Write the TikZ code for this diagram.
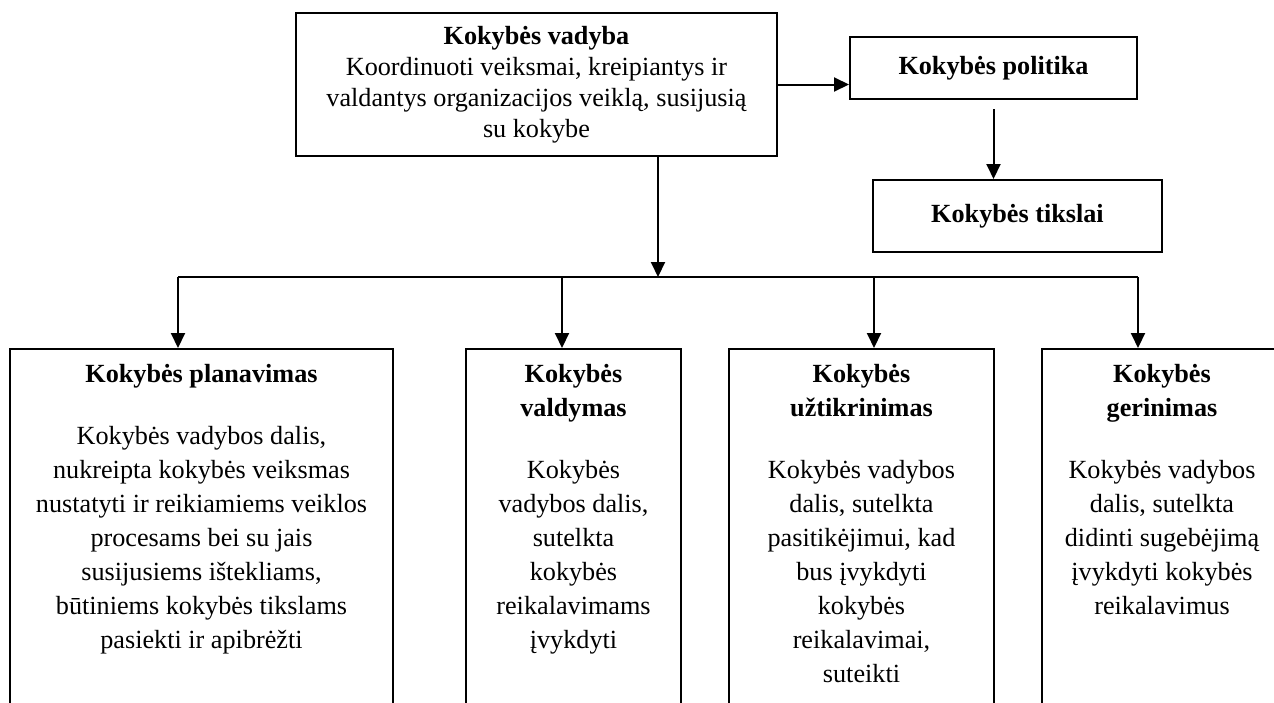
\documentclass[tikz,border=0pt]{standalone}
\usepackage{fontspec}
\setmainfont{Liberation Serif}
\usetikzlibrary{arrows.meta}

\tikzset{
    box/.style={draw, line width=1pt, inner sep=0pt},
    txt/.style={align=center, inner sep=0pt, font=\fontsize{13.1}{17}\selectfont},
    arr/.style={line width=1pt, -{Triangle[length=7.5pt,width=7pt]}}
}

\begin{document}
\begin{tikzpicture}[x=0.5pt, y=-0.5pt]
    \clip (0,0) rectangle (1274,702);
    \fill[white] (0,0) rectangle (1274,702);

    \node[box, txt, font=\fontsize{13.1}{15.5}\selectfont,
        minimum width=240.5pt, minimum height=71.5pt] (vadyba) at (536.5,84.5)
        {\textbf{Kokybės vadyba}\\ Koordinuoti veiksmai, kreipiantys ir\\
         valdantys organizacijos veiklą, susijusią\\ su kokybe};

    \node[box, txt, minimum width=143.5pt, minimum height=31pt] (politika)
        at (993.5,68) {\textbf{Kokybės politika}};

    \node[box, txt, minimum width=144.5pt, minimum height=36pt] (tikslai)
        at (1017.5,216) {\textbf{Kokybės tikslai}};

    \node[box, anchor=north, minimum width=191.5pt, minimum height=206pt] (planavimas) at (201.5,348) {};
    \node[box, anchor=north, minimum width=107.5pt, minimum height=206pt] (valdymas) at (573.5,348) {};
    \node[box, anchor=north, minimum width=132.5pt, minimum height=206pt] (uztikrinimas) at (861.5,348) {};
    \node[box, anchor=north, minimum width=120pt, minimum height=206pt] (gerinimas) at (1162,348) {};

    \node[txt, anchor=north] (planavimas-txt) at ([yshift=-8pt]planavimas.north)
        {\textbf{Kokybės planavimas}\\[14pt] Kokybės vadybos dalis,\\ nukreipta kokybės veiksmas\\
         nustatyti ir reikiamiems veiklos\\ procesams bei su jais\\ susijusiems ištekliams,\\
         būtiniems kokybės tikslams\\ pasiekti ir apibrėžti};

    \node[txt, anchor=north] (valdymas-txt) at ([yshift=-8pt]valdymas.north)
        {\textbf{Kokybės}\\ \textbf{valdymas}\\[14pt] Kokybės\\ vadybos dalis,\\ sutelkta\\
         kokybės\\ reikalavimams\\ įvykdyti};

    \node[txt, anchor=north] (uztikrinimas-txt) at ([yshift=-8pt]uztikrinimas.north)
        {\textbf{Kokybės}\\ \textbf{užtikrinimas}\\[14pt] Kokybės vadybos\\ dalis, sutelkta\\
         pasitikėjimui, kad\\ bus įvykdyti\\ kokybės\\ reikalavimai,\\ suteikti};

    \node[txt, anchor=north] (gerinimas-txt) at ([yshift=-8pt]gerinimas.north)
        {\textbf{Kokybės}\\ \textbf{gerinimas}\\[14pt] Kokybės vadybos\\ dalis, sutelkta\\
         didinti sugebėjimą\\ įvykdyti kokybės\\ reikalavimus};

    \coordinate (hub) at (658,277);
    \coordinate (b1) at (178,277);
    \coordinate (b2) at (562,277);
    \coordinate (b3) at (874,277);
    \coordinate (b4) at (1138,277);

    \draw[arr] (vadyba.east) -- (vadyba.east -| politika.west);
    \draw[arr] ([yshift=-4.5pt]politika.south) -- (politika.south |- tikslai.north);
    \draw[arr] (vadyba.south -| hub) -- (hub);
    \draw[line width=1pt] (b1) -- (b4);
    \foreach \b/\n in {b1/planavimas, b2/valdymas, b3/uztikrinimas, b4/gerinimas}
        \draw[arr] (\b) -- (\b |- \n.north);
\end{tikzpicture}
\end{document}
